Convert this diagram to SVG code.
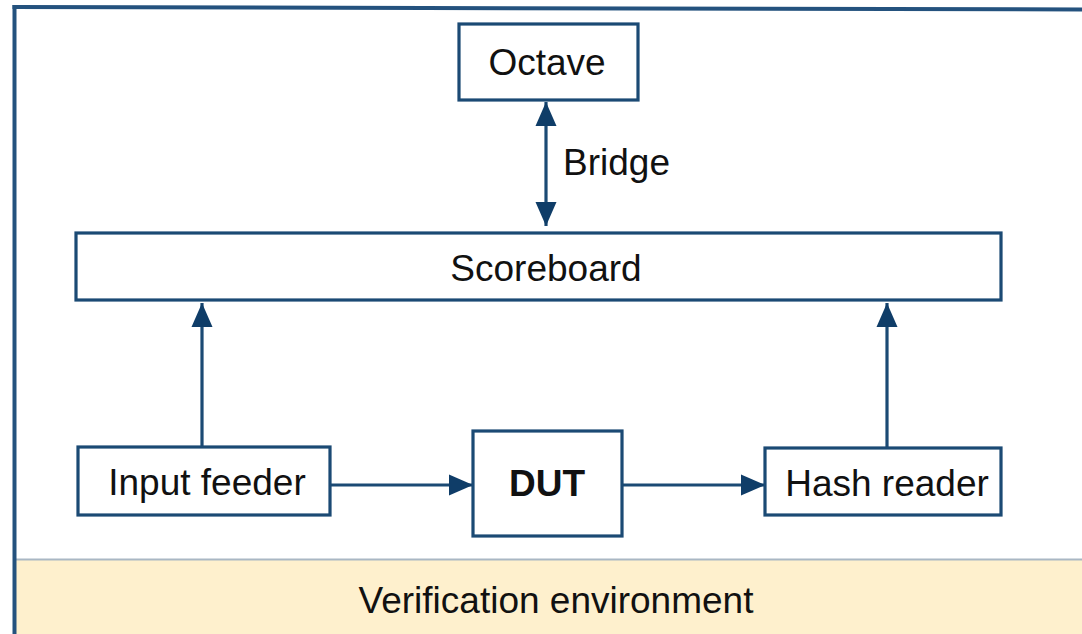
<svg xmlns="http://www.w3.org/2000/svg" width="1082" height="634" viewBox="0 0 1082 634">
  <style>
    .box { fill: #ffffff; stroke: #1b4a74; stroke-width: 3.2; }
    .lbl { font-family: "Liberation Sans", Arial, sans-serif; font-size: 37px; fill: #111111; text-anchor: middle; }
    .bold { font-weight: bold; }
    .edge { fill: none; stroke: #1b4a74; stroke-width: 3.2; }
    .frame { fill: none; stroke: #24527e; stroke-width: 4; }
  </style>
  <defs>
    <marker id="head" markerUnits="userSpaceOnUse" markerWidth="26" markerHeight="24" viewBox="0 0 26 24" refX="24" refY="12" orient="auto-start-reverse">
      <path d="M0,1.5 L24,12 L0,22.5 Z" fill="#0f3d68"/>
    </marker>
  </defs>

  <!-- background -->
  <rect x="0" y="0" width="1082" height="634" fill="#ffffff"/>

  <!-- environment band -->
  <g id="environment">
    <rect x="14" y="560" width="1068" height="74" fill="#fef0cd"/>
    <line x1="14" y1="559.5" x2="1082" y2="559.5" stroke="#a9b7c4" stroke-width="2"/>
    <text class="lbl" x="556" y="613">Verification environment</text>
  </g>

  <!-- outer frame -->
  <g id="frame">
    <line class="frame" x1="14.5" y1="5" x2="14.5" y2="634"/>
    <line class="frame" x1="12.5" y1="7" x2="1082" y2="9.5"/>
  </g>

  <!-- connectors -->
  <g id="connectors">
    <line class="edge" x1="546" y1="102" x2="546" y2="226" marker-start="url(#head)" marker-end="url(#head)"/>
    <text class="lbl" x="563" y="175" style="text-anchor:start">Bridge</text>
    <line class="edge" x1="202" y1="447" x2="202" y2="303" marker-end="url(#head)"/>
    <line class="edge" x1="887" y1="448" x2="887" y2="303" marker-end="url(#head)"/>
    <line class="edge" x1="330" y1="485" x2="473" y2="485" marker-end="url(#head)"/>
    <line class="edge" x1="622" y1="485" x2="765" y2="485" marker-end="url(#head)"/>
  </g>

  <!-- nodes -->
  <g id="octave">
    <rect class="box" x="459" y="24" width="179" height="76"/>
    <text class="lbl" x="547" y="75">Octave</text>
  </g>
  <g id="scoreboard">
    <rect class="box" x="76" y="233" width="925" height="67"/>
    <text class="lbl" x="546" y="281">Scoreboard</text>
  </g>
  <g id="input-feeder">
    <rect class="box" x="78" y="447" width="252" height="68"/>
    <text class="lbl" x="207" y="495">Input feeder</text>
  </g>
  <g id="dut">
    <rect class="box" x="473" y="431" width="149" height="105"/>
    <text class="lbl bold" x="547" y="496">DUT</text>
  </g>
  <g id="hash-reader">
    <rect class="box" x="765" y="448" width="236" height="67"/>
    <text class="lbl" x="887" y="496">Hash reader</text>
  </g>
</svg>
